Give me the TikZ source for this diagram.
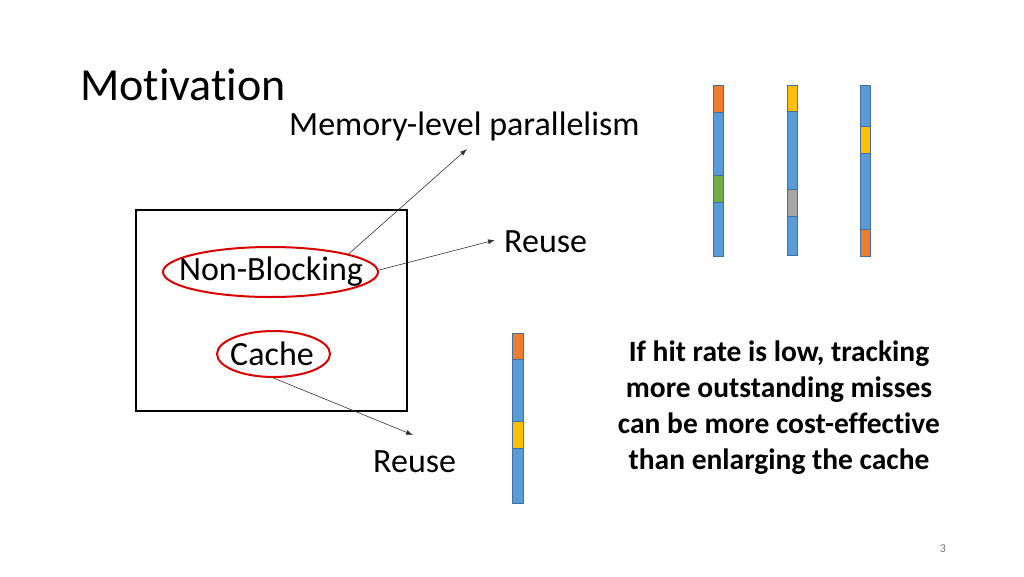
\documentclass[tikz,border=0pt]{standalone}
\usepackage{fontspec}
\setmainfont{Carlito}[Ligatures=NoCommon]
\usetikzlibrary{arrows.meta,shapes.geometric}
\definecolor{barblue}{HTML}{5B9BD5}
\definecolor{barorange}{HTML}{ED7D31}
\definecolor{baryellow}{HTML}{FFC000}
\definecolor{bargreen}{HTML}{70AD47}
\definecolor{bargray}{HTML}{A5A5A5}
\definecolor{barline}{HTML}{41719C}
\tikzset{
  fs/.style={font=\fontsize{#1}{#1}\selectfont},
  lbl/.style={inner sep=0pt, fs=34},
  ring/.style={draw=red!85!black, line width=2pt, ellipse, inner sep=0pt},
  conn/.style={-{Latex[length=7pt,width=5pt]}, line width=0.6pt, draw=black!80},
  seg/.style={draw=barline, line width=0.7pt},
}
\begin{document}
\begin{tikzpicture}[x=1pt,y=-1pt]
\useasboundingbox (0,0) rectangle (1024,576);
% title
\node[anchor=base west, inner sep=0pt, fs=46] (title) at (80,100) {Motivation};
\node[anchor=base west, inner sep=0pt, fs=34] (mlp) at (289,135) {Memory-level parallelism};
% box
\node[draw, line width=2.6pt, minimum width=271pt, minimum height=201pt, inner sep=0pt] (box) at (271.5,310.5) {};
% ellipses
\node[ring, minimum width=215pt, minimum height=50pt] (nbe) at (270.5,272) {};
\node[lbl] (nb) at (271,272) {Non-Blocking};
\node[ring, minimum width=113pt, minimum height=46pt] (ce) at (273.5,354) {};
\node[lbl] (cache) at (272,354) {Cache};
% reuse labels
\node[lbl, anchor=west] (reuse1) at (504,242) {Reuse};
\node[lbl, anchor=west] (reuse2) at (373,462) {Reuse};
% arrow end points
\coordinate (a1) at (467,149);
\coordinate (a2) at (495,240);
\coordinate (a3) at (413,435);
\draw[conn] (nbe.13) -- (a1);
\draw[conn] (nbe.1) -- (a2);
\draw[conn] (ce.south) -- (a3);
% bars
\newcommand{\seg}[4]{\path[seg, fill=#4] (#1,#2) rectangle (#1+10.5,#3);}
\seg{713}{85}{112}{barorange}
\seg{713}{112}{175}{barblue}
\seg{713}{175}{202}{bargreen}
\seg{713}{202}{256}{barblue}
\seg{787}{85}{111}{baryellow}
\seg{787}{111}{189}{barblue}
\seg{787}{189}{216}{bargray}
\seg{787}{216}{255}{barblue}
\seg{860.3}{85}{126}{barblue}
\seg{860.3}{126}{153}{baryellow}
\seg{860.3}{153}{229.5}{barblue}
\seg{860.3}{229.5}{256}{barorange}
\seg{512.5}{333}{359.5}{barorange}
\seg{512.5}{359.5}{421.5}{barblue}
\seg{512.5}{421.5}{448.5}{baryellow}
\seg{512.5}{448.5}{503.5}{barblue}
% bold text
\node[align=center, inner sep=0pt, font=\fontsize{29.5}{36}\selectfont\bfseries] (note) at (779,408)
 {If hit rate is low, tracking\\more outstanding misses\\can be more cost-effective\\than enlarging the cache};
% page number
\node[inner sep=0pt, fs=12, text=black!55] (pg) at (943,549) {3};
\end{tikzpicture}
\end{document}
